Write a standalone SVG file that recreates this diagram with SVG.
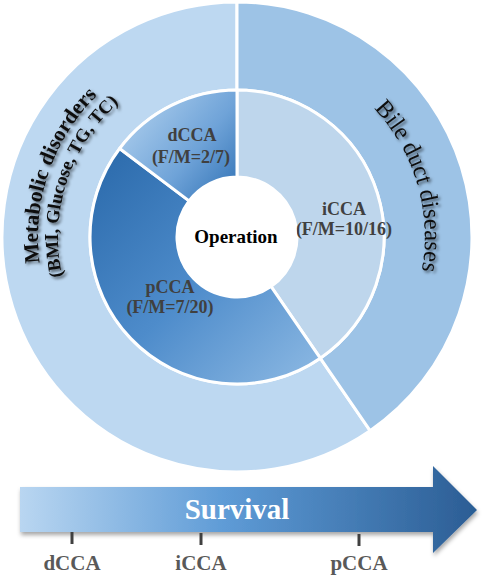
<svg xmlns="http://www.w3.org/2000/svg" width="486" height="578" viewBox="0 0 486 578">
<style>
.seg{stroke:#fff;stroke-width:3;stroke-linejoin:round}
.lbl{font-family:"Liberation Serif","Times New Roman",serif;font-weight:bold;font-size:18px;fill:#404040;text-anchor:middle}
.curve{font-family:"Liberation Serif","Times New Roman",serif;fill:#111}
.m{font-weight:bold;font-size:21.5px}
.b{font-weight:bold;font-size:18.5px}
.d{font-size:24.5px}
.axis{font-family:"Liberation Serif","Times New Roman",serif;font-weight:bold;font-size:21px;fill:#595959;text-anchor:middle}
.tick{stroke:#404040;stroke-width:3}
</style>
<defs>
<linearGradient id="gd" gradientUnits="userSpaceOnUse" x1="135" y1="115" x2="232" y2="195">
<stop offset="0" stop-color="#A4C8EA"/><stop offset="0.55" stop-color="#6FA3D8"/><stop offset="1" stop-color="#3676B8"/>
</linearGradient>
<linearGradient id="gp" gradientUnits="userSpaceOnUse" x1="110" y1="160" x2="320" y2="370">
<stop offset="0" stop-color="#2E6DAE"/><stop offset="0.5" stop-color="#4E8CCB"/><stop offset="1" stop-color="#8AB7E2"/>
</linearGradient>
<linearGradient id="ga" gradientUnits="userSpaceOnUse" x1="20" y1="0" x2="477" y2="0">
<stop offset="0" stop-color="#B9D6F1"/><stop offset="0.45" stop-color="#5E9BD6"/><stop offset="1" stop-color="#2B5D94"/>
</linearGradient>
<filter id="ts" x="-20%" y="-20%" width="140%" height="140%">
<feDropShadow dx="2" dy="2" stdDeviation="1.6" flood-color="#000" flood-opacity="0.6"/>
</filter>
<filter id="as" x="-5%" y="-10%" width="110%" height="130%">
<feDropShadow dx="1" dy="3" stdDeviation="2" flood-color="#000" flood-opacity="0.35"/>
</filter>
<path id="pm" d="M 109.1 389.4 A 199 199 0 0 1 230.06 38.1"/>
<path id="pb" d="M 124.4 376.1 A 179 179 0 0 1 227.6 58.25"/>
<path id="pd" d="M 250.1 49.5 A 188 188 0 0 1 350.1 387.1"/>
</defs>

<g id="metabolic">
<path class="seg" fill="#BDD8F1" d="M 370.10 430.66 A 235 235 0 1 1 237 2 L 237 90 A 147 147 0 1 0 320.26 358.14 Z"/>
<g filter="url(#ts)">
<text class="curve m" text-anchor="middle"><textPath href="#pm" startOffset="50%">Metabolic disorders</textPath></text>
<text class="curve b" text-anchor="middle"><textPath href="#pb" startOffset="50%">(BMI, Glucose, TG, TC)</textPath></text>
</g>
</g>

<g id="bile">
<path class="seg" fill="#9DC3E6" d="M 237 2 A 235 235 0 0 1 370.10 430.66 L 320.26 358.14 A 147 147 0 0 0 237 90 Z"/>
<g filter="url(#ts)">
<text class="curve d"><textPath href="#pd" startOffset="140.3">Bile</textPath></text>
<text class="curve d"><textPath href="#pd" startOffset="187.3">duct</textPath></text>
<text class="curve d"><textPath href="#pd" startOffset="235.6">diseases</textPath></text>
</g>
</g>

<g id="icca">
<path class="seg" fill="#BED6EC" d="M 237 90 A 147 147 0 0 1 320.26 358.14 L 270.98 286.45 A 60 60 0 0 0 237 177 Z"/>
<text class="lbl" x="344" y="215">iCCA</text>
<text class="lbl" x="344" y="235">(F/M=10/16)</text>
</g>

<g id="pcca">
<path class="seg" fill="url(#gp)" d="M 320.26 358.14 A 147 147 0 0 1 119.61 148.54 L 189.08 200.89 A 60 60 0 0 0 270.98 286.45 Z"/>
<text class="lbl" x="170" y="293">pCCA</text>
<text class="lbl" x="170" y="313">(F/M=7/20)</text>
</g>

<g id="dcca">
<path class="seg" fill="url(#gd)" d="M 119.61 148.54 A 147 147 0 0 1 237 90 L 237 177 A 60 60 0 0 0 189.08 200.89 Z"/>
<text class="lbl" x="192" y="141">dCCA</text>
<text class="lbl" x="191" y="163">(F/M=2/7)</text>
</g>

<g id="operation">
<circle cx="237" cy="237" r="60" fill="#fff"/>
<text x="236" y="243" font-family="'Liberation Serif','Times New Roman',serif" font-weight="bold" font-size="19" fill="#000" text-anchor="middle">Operation</text>
</g>

<g id="survival">
<polygon filter="url(#as)" fill="url(#ga)" points="20,487 433,487 433,466 477,510 433,553 433,532 20,532"/>
<text x="237" y="519" font-family="'Liberation Serif','Times New Roman',serif" font-weight="bold" font-size="29" fill="#fff" text-anchor="middle">Survival</text>
</g>

<g id="connectors">
<line class="tick" x1="72" y1="532" x2="72" y2="544"/>
<line class="tick" x1="201" y1="533" x2="201" y2="545"/>
<line class="tick" x1="359" y1="534" x2="359" y2="546"/>
</g>

<g id="axis-labels">
<text class="axis" x="72" y="570">dCCA</text>
<text class="axis" x="201" y="570">iCCA</text>
<text class="axis" x="359" y="570">pCCA</text>
</g>
</svg>
